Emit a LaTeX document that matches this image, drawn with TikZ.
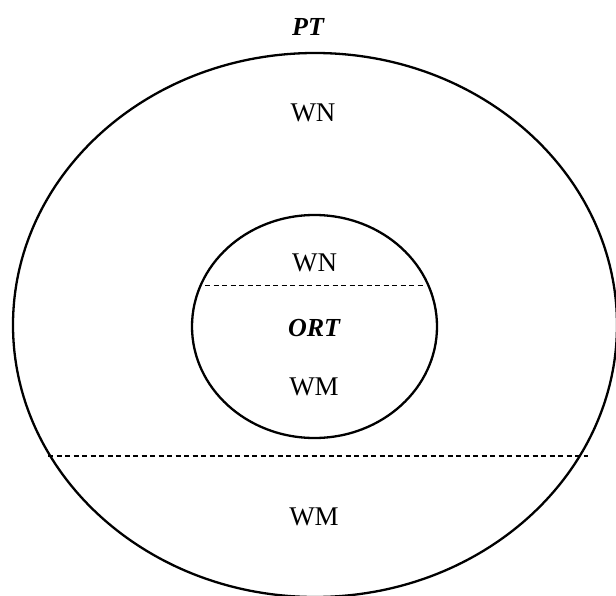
\documentclass[tikz,border=0pt]{standalone}
\usepackage{fontspec}
\setmainfont{Liberation Serif}
\begin{document}
\begin{tikzpicture}[x=1pt,y=-1pt,
  ring/.style={line width=2.3pt,draw=black},
  divider/.style={line width=1.2pt,dash pattern=on 5pt off 3.5pt},
  lbl/.style={font=\fontsize{27}{31}\selectfont,inner sep=0pt},
  blbl/.style={font=\fontsize{26}{30}\selectfont\bfseries\itshape,inner sep=0pt}]
\useasboundingbox (0,0) rectangle (616,596);
% outer and inner ellipses
\draw[ring] (315,325) ellipse [x radius=302, y radius=272];
\draw[ring] (314.5,326.5) ellipse [x radius=122.5, y radius=111.5];
% dashed dividers
\coordinate (oL) at (48,456);
\coordinate (oR) at (588,456);
\coordinate (iL) at (205,285.5);
\coordinate (iR) at (425,285.5);
\draw[divider] (oL) -- (oR);
\draw[divider] (iL) -- (iR);
% labels
\node[blbl] (pt) at (308,27) {PT};
\node[lbl] (wn1) at (313,113) {WN};
\node[lbl] (wn2) at (314.5,263) {WN};
\node[blbl] (ort) at (314,328) {ORT};
\node[lbl] (wm1) at (314,387) {WM};
\node[lbl] (wm2) at (314,517) {WM};
\end{tikzpicture}
\end{document}
